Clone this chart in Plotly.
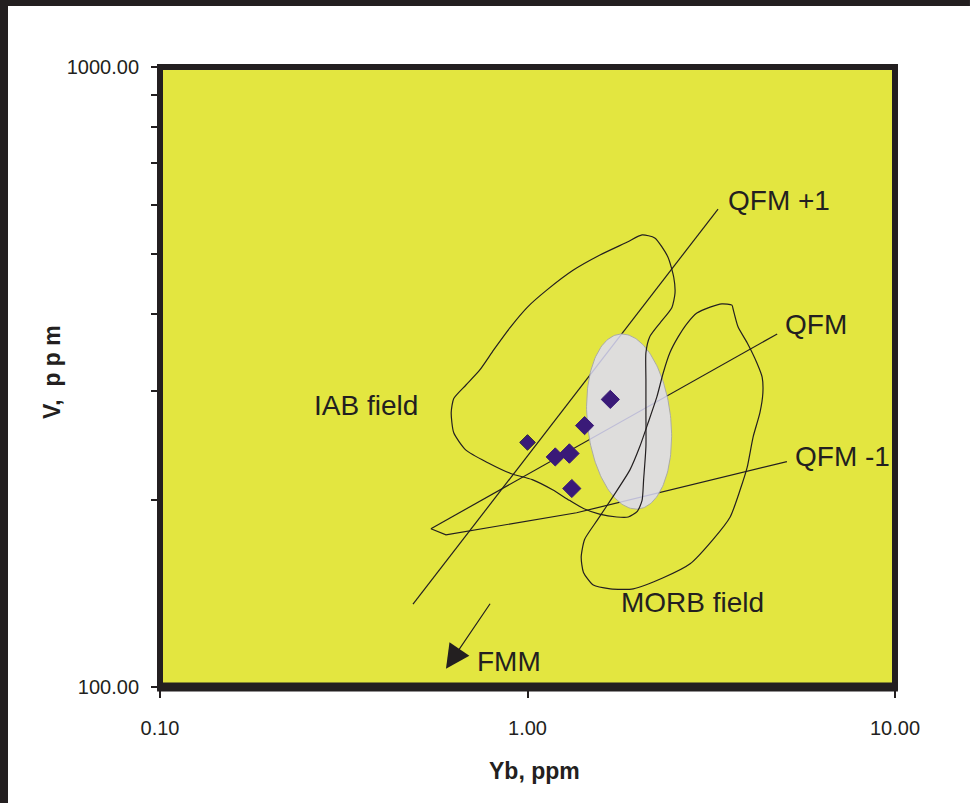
import numpy as np
import plotly.graph_objects as go

# ---------------- data (Yb ppm, V ppm) ----------------
IAB_YB = [2.05, 2.22, 2.41, 2.50, 2.52, 2.47, 2.29, 2.15, 2.10, 2.10, 2.10, 2.10, 2.07, 2.05,
          1.99, 1.88, 1.75, 1.57, 1.42, 1.30, 1.17, 1.03, 0.90, 0.78, 0.68, 0.63, 0.62, 0.63,
          0.68, 0.74, 0.81, 0.90, 1.00, 1.13, 1.33, 1.57, 1.87, 2.05]
IAB_V = [536, 530, 494, 458, 432, 409, 386, 367, 346, 313, 277, 244, 216, 200,
         192, 188, 188, 190, 194, 200, 208, 216, 221, 230, 241, 257, 277, 292,
         307, 324, 350, 381, 410, 437, 470, 497, 522, 536]

MORB_YB = [3.60, 3.38, 3.14, 2.89, 2.72, 2.57, 2.44, 2.34, 2.25, 2.13, 2.02, 1.90, 1.71,
           1.55, 1.43, 1.40, 1.42, 1.51, 1.68, 1.94, 2.34, 2.77, 3.20, 3.56, 3.79, 3.96,
           4.11, 4.29, 4.37, 4.35, 4.21, 3.96, 3.74, 3.63, 3.60]
MORB_V = [413, 415, 410, 401, 386, 367, 346, 321, 294, 267, 244, 224, 203,
          186, 173, 162, 153, 146, 144, 144, 150, 158, 173, 188, 208, 226,
          253, 277, 298, 316, 333, 359, 381, 406, 413]

QFM_P1_YB = [0.488, 3.30]
QFM_P1_V = [136, 590]
QFM_YB = [4.78, 0.546]
QFM_V = [371, 180]
QFM_M1_YB = [0.546, 0.600, 1.36, 5.08]
QFM_M1_V = [180, 176, 191, 231]

FMM_TAIL_YB, FMM_TAIL_V = 0.796, 137
FMM_TIP_YB, FMM_TIP_V = 0.600, 107

SAMPLE_YB = [1.00, 1.19, 1.30, 1.43, 1.68, 1.32]
SAMPLE_V = [248, 235, 238, 264, 291, 209]

# grey ellipse: centre and two conjugate half-diameter end points
ELL_CENTER = (1.89, 268)
ELL_TOP = (1.807, 371)
ELL_RIGHT = (2.458, 268)

LABELS = ["QFM +1", "QFM", "QFM -1", "IAB field", "MORB field", "FMM"]
LABEL_YB = [3.49, 5.00, 5.30, 0.260, 1.79, 0.725]
LABEL_V = [610, 385, 235, 285, 137, 110]

X_TICKS = [0.1, 1, 10]
X_TICK_TEXT = ["0.10", "1.00", "10.00"]
Y_TICKS = [100, 200, 300, 400, 500, 600, 700, 800, 900, 1000]
Y_TICK_TEXT = ["100.00", "", "", "", "", "", "", "", "", "1000.00"]

# ---------------- styling ----------------
INK = "#231f20"
FONT = "Liberation Sans, Arial, Helvetica, sans-serif"

fig = go.Figure()

line_style = dict(color=INK, width=1.2)
for xs, ys in [(QFM_P1_YB, QFM_P1_V), (QFM_YB, QFM_V), (QFM_M1_YB, QFM_M1_V)]:
    fig.add_trace(go.Scatter(x=xs, y=ys, mode="lines", line=line_style,
                             hoverinfo="skip", showlegend=False))

# ellipse (in log space)
t = np.linspace(0, 2 * np.pi, 181)
c = np.log10(ELL_CENTER)
u = np.log10(ELL_TOP) - c
v = np.log10(ELL_RIGHT) - c
ex = 10 ** (c[0] + u[0] * np.cos(t) + v[0] * np.sin(t))
ey = 10 ** (c[1] + u[1] * np.cos(t) + v[1] * np.sin(t))
fig.add_trace(go.Scatter(x=ex, y=ey, mode="lines", fill="toself",
                         fillcolor="rgba(221,219,250,0.84)",
                         line=dict(color="rgba(165,165,165,0.9)", width=1),
                         hoverinfo="skip", showlegend=False))

for xs, ys in [(IAB_YB, IAB_V), (MORB_YB, MORB_V)]:
    fig.add_trace(go.Scatter(x=xs, y=ys, mode="lines",
                             line=dict(color=INK, width=1.2, shape="spline", smoothing=0.6),
                             hoverinfo="skip", showlegend=False))

fig.add_trace(go.Scatter(x=SAMPLE_YB, y=SAMPLE_V, mode="markers",
                         marker=dict(symbol="diamond", size=[12, 14, 15, 14, 14, 14],
                                     color="#3a1a78", opacity=1,
                                     line=dict(color=["#2a2540"] + ["#3a1a78"] * 5, width=1)),
                         showlegend=False))

annotations = []
for txt, xv, yv in zip(LABELS, LABEL_YB, LABEL_V):
    annotations.append(dict(x=np.log10(xv), y=np.log10(yv), xref="x", yref="y",
                            text=txt, showarrow=False, xanchor="left", yanchor="middle",
                            borderpad=0,
                            font=dict(family=FONT, size=28, color=INK)))

annotations.append(dict(x=np.log10(FMM_TIP_YB), y=np.log10(FMM_TIP_V),
                        ax=np.log10(FMM_TAIL_YB), ay=np.log10(FMM_TAIL_V),
                        xref="x", yref="y", axref="x", ayref="y", text="",
                        showarrow=True, arrowhead=2, arrowsize=4.0, arrowwidth=1.2,
                        arrowcolor=INK))

annotations.append(dict(x=0.510, y=-0.1355, xref="paper", yref="paper",
                        text="<b>Yb, ppm</b>", showarrow=False,
                        xanchor="center", yanchor="middle",
                        font=dict(family=FONT, size=23, color=INK)))
annotations.append(dict(x=-0.147, y=0.508, xref="paper", yref="paper",
                        text="<b>V,\u00a0 p p m</b>", showarrow=False, textangle=-90,
                        xanchor="center", yanchor="middle",
                        font=dict(family=FONT, size=23, color=INK)))

shapes = [
    # plot frame
    dict(type="rect", xref="paper", yref="paper", x0=0, x1=1, y0=0, y1=1,
         line=dict(color=INK, width=6), layer="above"),
    dict(type="line", xref="paper", yref="paper", x0=-0.004, x1=1.004, y0=0, y1=0,
         line=dict(color=INK, width=9), layer="above"),
    # outer picture frame (top and left dark bars)
    dict(type="rect", xref="paper", yref="paper", x0=-0.2177, x1=1.102, y0=1.0985, y1=1.109,
         fillcolor=INK, line=dict(width=0), layer="above"),
    dict(type="rect", xref="paper", yref="paper", x0=-0.2177, x1=-0.2068, y0=-0.19, y1=1.109,
         fillcolor=INK, line=dict(width=0), layer="above"),
]

fig.update_layout(
    width=970, height=803,
    margin=dict(l=160, r=75, t=67, b=116, pad=0),
    paper_bgcolor="white", plot_bgcolor="#e3e640",
    showlegend=False,
    annotations=annotations, shapes=shapes,
    xaxis=dict(type="log", range=[-1, 1], tickvals=X_TICKS, ticktext=X_TICK_TEXT,
               ticks="outside", ticklen=10, tickwidth=1.5, tickcolor=INK,
               showgrid=False, zeroline=False, showline=False,
               tickfont=dict(family=FONT, size=20, color=INK),
               ticklabelstandoff=13),
    yaxis=dict(type="log", range=[2, 3], tickvals=Y_TICKS, ticktext=Y_TICK_TEXT,
               ticks="outside", ticklen=8, tickwidth=1.5, tickcolor=INK,
               showgrid=False, zeroline=False, showline=False,
               tickfont=dict(family=FONT, size=20, color=INK),
               ticklabelstandoff=8),
)

fig.write_html("out.html", config={"displayModeBar": False},
               post_script="document.body.style.margin='0';document.body.style.overflow='hidden';")
